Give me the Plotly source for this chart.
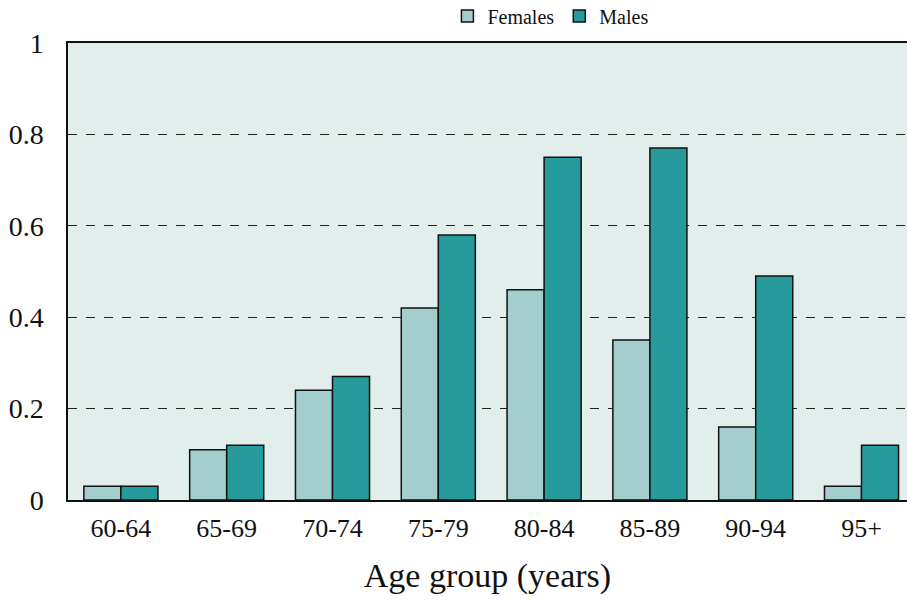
import plotly.graph_objects as go

categories = ["60-64", "65-69", "70-74", "75-79", "80-84", "85-89", "90-94", "95+"]
females = [0.03, 0.11, 0.24, 0.42, 0.46, 0.35, 0.16, 0.03]
males = [0.03, 0.12, 0.27, 0.58, 0.75, 0.77, 0.49, 0.12]
y_ticks = [0, 0.2, 0.4, 0.6, 0.8, 1]
y_tick_labels = ["0", "0.2", "0.4", "0.6", "0.8", "1"]

FONT = "Liberation Serif"

fig = go.Figure()
fig.add_trace(go.Bar(x=categories, y=females, name="Females",
                     marker=dict(color="#A3CECD", line=dict(color="#111111", width=1.5))))
fig.add_trace(go.Bar(x=categories, y=males, name="Males",
                     marker=dict(color="#279B9B", line=dict(color="#111111", width=1.5))))

fig.update_layout(
    width=907, height=603,
    margin=dict(l=68, r=0, t=43, b=103, autoexpand=False),
    paper_bgcolor="white",
    plot_bgcolor="#E2EEEC",
    barmode="group",
    bargap=0.3,
    bargroupgap=0,
    font=dict(family=FONT, color="#111111"),
    legend=dict(orientation="h", x=0.575, xanchor="center", y=1.059, yanchor="middle",
                font=dict(size=20, family=FONT), bgcolor="rgba(0,0,0,0)",
                itemwidth=30, tracegroupgap=0),
    xaxis=dict(
        range=[-0.5, 7.43],
        showgrid=False, zeroline=False,
        showline=True, linecolor="#111111", linewidth=1.5, mirror=True,
        tickfont=dict(size=26, family=FONT),
        ticks="outside", ticklen=4, tickcolor="rgba(0,0,0,0)",
        title=dict(text="Age group (years)", font=dict(size=34, family=FONT), standoff=21),
    ),
    yaxis=dict(
        range=[0, 1],
        tickvals=y_ticks, ticktext=y_tick_labels,
        showgrid=True, gridcolor="#222222", griddash="dash", gridwidth=1,
        zeroline=False,
        showline=True, linecolor="#111111", linewidth=1.5,
        tickfont=dict(size=28, family=FONT),
        ticks="outside", ticklen=17, tickcolor="rgba(0,0,0,0)",
    ),
)

fig.write_html("out.html", config={"displayModeBar": False},
               post_script="document.body.style.margin='0';document.body.style.overflow='hidden';")
